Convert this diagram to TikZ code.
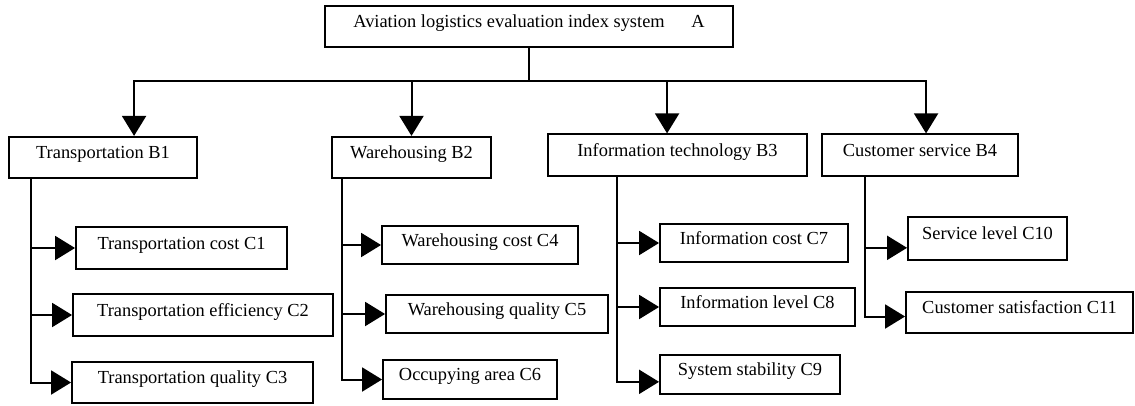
\documentclass[tikz,border=0pt]{standalone}
\usepackage{fontspec}
\setmainfont{Liberation Serif}
\usetikzlibrary{arrows.meta, calc}

\begin{document}
\begin{tikzpicture}[x=0.75pt, y=-0.75pt,
  box/.style={draw, line width=1.4pt, inner sep=0pt, minimum height=31pt, align=center,
    font=\fontsize{13.8}{16}\selectfont, text height=10pt, text depth=8pt},
  link/.style={line width=1.5pt},
  arr/.style={-{Triangle[length=15pt, width=18pt]}, line width=1.5pt}
]
  \useasboundingbox (0,0) rectangle (1135,406);

  % Goal
  \node[box, minimum width=306pt] (a) at (529,26.5) {Aviation logistics evaluation index system\hspace{20pt}A};

  % Criteria
  \node[box, minimum width=141pt] (b1) at (103,157.5) {Transportation B1};
  \node[box, minimum width=119.25pt] (b2) at (411.5,157.5) {Warehousing B2};
  \node[box, minimum width=194.25pt] (b3) at (677.5,155) {Information technology B3};
  \node[box, minimum width=147pt] (b4) at (920,155) {Customer service B4};

  % Indexes
  \node[box, minimum width=158.25pt, minimum height=31.5pt] (c1) at (181.5,248) {Transportation cost C1};
  \node[box, minimum width=195pt, minimum height=31.5pt] (c2) at (203,315) {Transportation efficiency C2};
  \node[box, minimum width=180.75pt, minimum height=30.75pt] (c3) at (192.5,382.5) {Transportation quality C3};
  \node[box, minimum width=147pt, minimum height=28.5pt] (c4) at (480,245) {Warehousing cost C4};
  \node[box, minimum width=166.5pt, minimum height=28.5pt] (c5) at (497,314) {Warehousing quality C5};
  \node[box, minimum width=130.5pt, minimum height=29.25pt] (c6) at (470,379.5) {Occupying area C6};
  \node[box, minimum width=141pt, minimum height=28.5pt] (c7) at (754,243) {Information cost C7};
  \node[box, minimum width=146.25pt, minimum height=28.5pt] (c8) at (757.5,307) {Information level C8};
  \node[box, minimum width=135pt, minimum height=29.25pt] (c9) at (750,374.5) {System stability C9};
  \node[box, minimum width=119.25pt, minimum height=32.25pt] (c10) at (987.5,238.5) {Service level C10};
  \node[box, minimum width=170.25pt, minimum height=30.75pt] (c11) at (1019.5,312.5) {Customer satisfaction C11};

  % Top level links
  \draw[link] (a.south) -- ++(0,33) coordinate (bus);
  \draw[arr] (bus) -| ($(b1.north west)+(126,0)$);
  \draw[arr] (bus) -| (b2.north);
  \draw[arr] (bus) -| ($(b3.north west)+(120,0)$);
  \draw[arr] (bus) -| ($(b4.north west)+(105,0)$);

  % Lower level links
  \foreach \c in {c1,c2,c3}
    \draw[arr] ($(b1.south west)+(23,0)$) |- (\c);
  \foreach \c in {c4,c5,c6}
    \draw[arr] ($(b2.south west)+(11,0)$) |- (\c);
  \foreach \c in {c7,c8}
    \draw[arr] ($(b3.south west)+(70,0)$) |- (\c);
  \draw[arr] ($(b3.south west)+(70,0)$) |- ([yshift=-5.5pt]c9.west);
  \draw[arr] ($(b4.south west)+(44,0)$) |- ([yshift=-7pt]c10.west);
  \draw[arr] ($(b4.south west)+(44,0)$) |- ([yshift=-3pt]c11.west);
\end{tikzpicture}
\end{document}
